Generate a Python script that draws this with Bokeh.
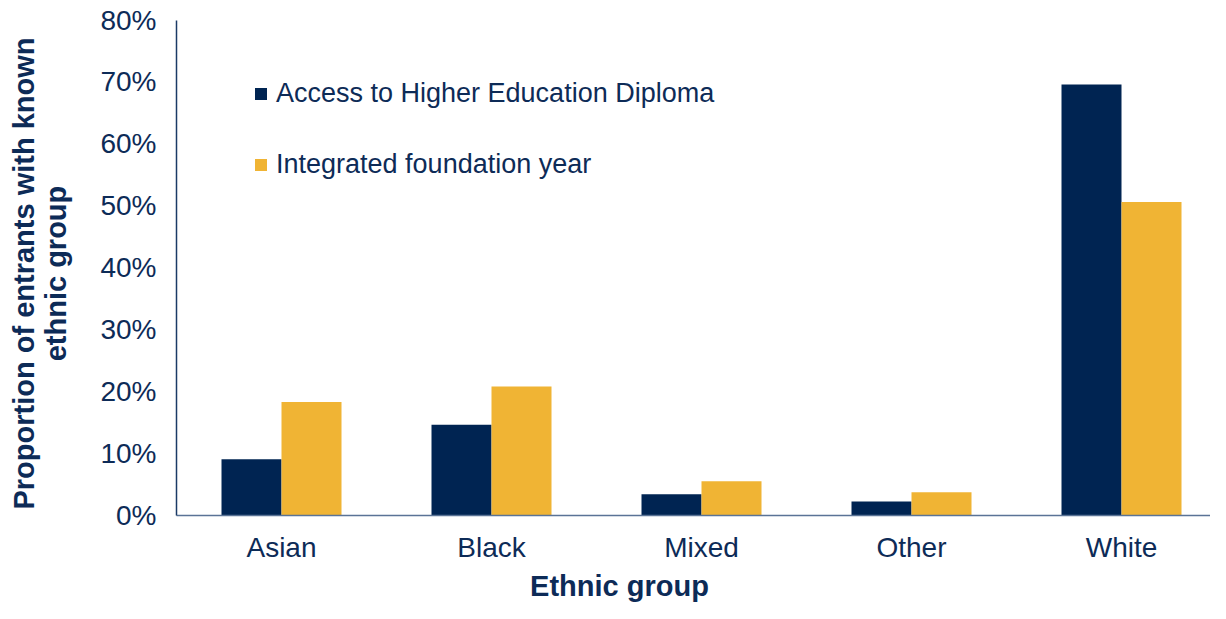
import math
from bokeh.plotting import figure
from bokeh.models import Range1d, FixedTicker, Legend, LegendItem, NumeralTickFormatter, ColumnDataSource, Label
from bokeh.embed import file_html
from bokeh.resources import INLINE

categories = ["Asian", "Black", "Mixed", "Other", "White"]
access = [0.0905, 0.146, 0.034, 0.022, 0.696]
ify = [0.183, 0.208, 0.055, 0.037, 0.506]
series_names = ["Access to Higher Education Diploma", "Integrated foundation year"]
y_ticks = [0.0, 0.1, 0.2, 0.3, 0.4, 0.5, 0.6, 0.7, 0.8]
x_title = "Ethnic group"
y_title_lines = ["Proportion of entrants with known", "ethnic group"]

NAVY = "#002452"
GOLD = "#F0B434"
TEXT = "#0d2b57"
FONT = "Liberation Sans"

W, H = 1210, 603                 # figure drawn at page offset (8, 8)
OX, OY = 8, 8
axis_x_page = 184.0              # page x of the y axis
zero_y_page = 522.7              # page y of the 0% line
top_y_page = 27.5                # page y of the 80% line
unit = 210.0                     # px per category
px_per_val = (zero_y_page - top_y_page) / 0.8

x_start = -(axis_x_page - OX) / unit
x_end = (OX + W - axis_x_page) / unit
y_start = -(OY + H - zero_y_page) / px_per_val
y_end = 0.8 + (top_y_page - OY) / px_per_val


def px_to_x(px):
    return (px - axis_x_page) / unit


def py_to_y(py):
    return (zero_y_page - py) / px_per_val


p = figure(width=W, height=H, output_backend="svg", toolbar_location=None,
           x_range=Range1d(x_start, x_end), y_range=Range1d(y_start, y_end),
           min_border_left=0, min_border_right=0,
           min_border_top=0, min_border_bottom=0)
p.outline_line_color = None
p.grid.grid_line_color = None
p.background_fill_color = "white"
p.border_fill_color = "white"

centers = [i + 0.5 for i in range(len(categories))]
bw = 60.0 / unit
src = ColumnDataSource(dict(
    x1=[c - bw / 2 for c in centers],
    x2=[c + bw / 2 for c in centers],
    a=access, b=ify))
r1 = p.vbar(x="x1", top="a", width=bw, source=src, fill_color=NAVY, line_color=None)
r2 = p.vbar(x="x2", top="b", width=bw, source=src, fill_color=GOLD, line_color=None)

# x axis at the 0 line
xa = p.xaxis[0]
xa.fixed_location = 0
xa.bounds = (0, x_end)
xa.ticker = FixedTicker(ticks=centers)
xa.major_label_overrides = {c: n for c, n in zip(centers, categories)}
xa.major_tick_line_color = None
xa.minor_tick_line_color = None
xa.axis_line_color = "#5a7396"
xa.axis_line_width = 1.5
xa.major_label_text_font = FONT
xa.major_label_text_font_size = "28px"
xa.major_label_text_color = TEXT
xa.major_label_standoff = 11

# y axis at x = 0
ya = p.yaxis[0]
ya.fixed_location = 0
ya.bounds = (0, 0.8)
ya.ticker = FixedTicker(ticks=y_ticks)
ya.formatter = NumeralTickFormatter(format="0%")
ya.major_tick_line_color = None
ya.minor_tick_line_color = None
ya.axis_line_color = "#1b3a66"
ya.axis_line_width = 1.5
ya.major_label_text_font = FONT
ya.major_label_text_font_size = "28px"
ya.major_label_text_color = TEXT
ya.major_label_standoff = 14

# axis titles
p.add_layout(Label(x=px_to_x(627), y=py_to_y(593), text=x_title,
                   text_align="center", text_baseline="middle",
                   text_font=FONT, text_font_style="bold", text_font_size="29px",
                   text_color=TEXT))
for line, cx in zip(y_title_lines, [31, 63]):
    p.add_layout(Label(x=px_to_x(cx), y=py_to_y(281), text=line, angle=math.pi / 2,
                       text_align="center", text_baseline="middle",
                       text_font=FONT, text_font_style="bold", text_font_size="29px",
                       text_color=TEXT))

legend = Legend(items=[LegendItem(label=series_names[0], renderers=[r1]),
                       LegendItem(label=series_names[1], renderers=[r2])],
                location=(253, 423), orientation="vertical")
legend.glyph_width = 15
legend.glyph_height = 15
legend.label_text_font = FONT
legend.label_text_font_size = "27px"
legend.label_text_color = TEXT
legend.label_standoff = 8
legend.spacing = 40
legend.padding = 0
legend.margin = 0
legend.border_line_color = None
legend.background_fill_alpha = 0
p.add_layout(legend)

open("out.html", "w").write(file_html(p, INLINE))
